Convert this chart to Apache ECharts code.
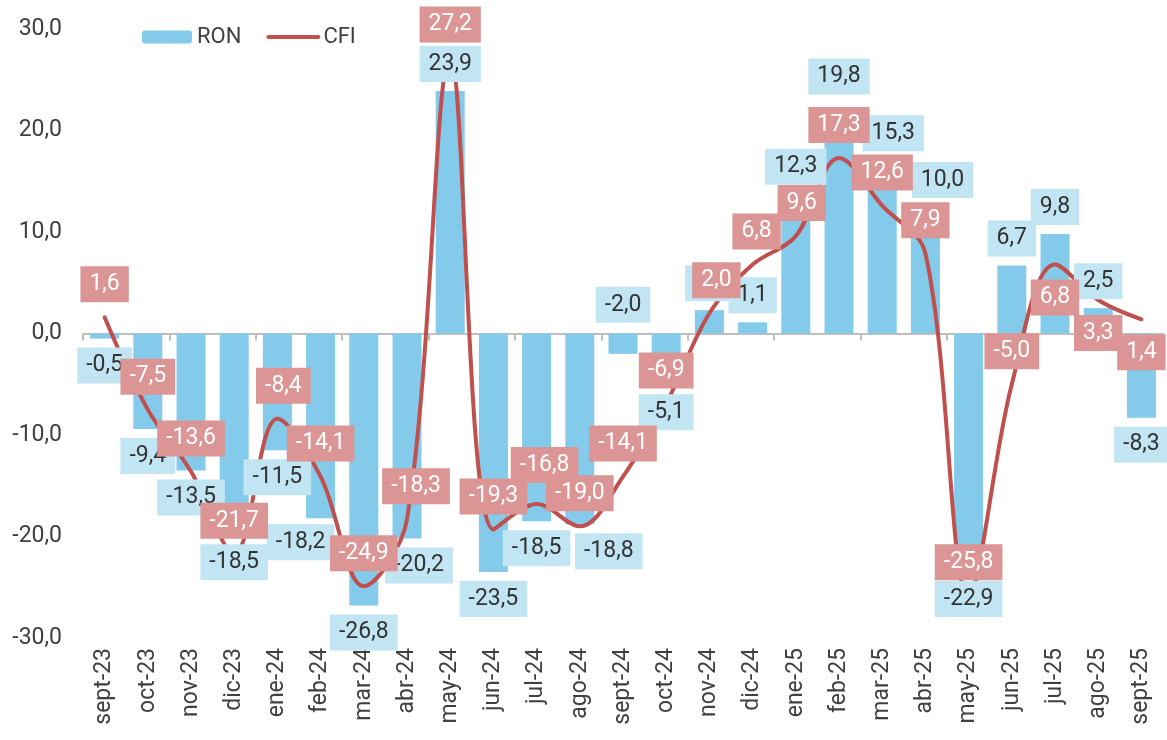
<!DOCTYPE html>
<html><head><meta charset="utf-8">
<script src="https://cdn.jsdelivr.net/npm/echarts@6/dist/echarts.min.js"></script>
<style>html,body{margin:0;padding:0;background:#fff}#c{width:1167px;height:740px}</style>
</head><body><div id="c"></div>
<script>
// ---- data ----
const categories = ['sept-23','oct-23','nov-23','dic-23','ene-24','feb-24','mar-24','abr-24','may-24','jun-24','jul-24','ago-24','sept-24','oct-24','nov-24','dic-24','ene-25','feb-25','mar-25','abr-25','may-25','jun-25','jul-25','ago-25','sept-25'];
const ronValues = [-0.5,-9.4,-13.5,-18.5,-11.5,-18.2,-26.8,-20.2,23.9,-23.5,-18.5,-18.8,-2.0,-5.1,2.3,1.1,12.3,19.8,15.3,10.0,-22.9,6.7,9.8,2.5,-8.3];
const cfiValues = [1.6,-7.5,-13.6,-21.7,-8.4,-14.1,-24.9,-18.3,27.2,-19.3,-16.8,-19.0,-14.1,-6.9,2.0,6.8,9.6,17.3,12.6,7.9,-25.8,-5.0,6.8,3.3,1.4];
const seriesNames = ['RON', 'CFI'];
const yMin = -30, yMax = 30, yStep = 10;

// ---- label layout tweaks (style only) ----
const ronLabelTweak = {3:{offset:[0,14]}, 5:{offset:[-20,-3]}, 7:{offset:[12,0]}, 11:{offset:[29,0]}, 12:{position:'top', offset:[0,-22]}, 16:{offset:[0,-15]}, 17:{offset:[0,-29]}, 18:{offset:[11,-18]}, 19:{offset:[17,-25]}, 20:{offset:[0,6]}};
const cfiLabelTweak = {4:{offset:[6,0]}, 7:{offset:[9,0]}, 10:{offset:[8,-6]}, 14:{offset:[7,0]}, 15:{offset:[4,0]}, 16:{offset:[6,0]}, 22:{position:'bottom'}, 23:{position:'bottom'}, 24:{position:'bottom'}};

const FONT = 'Roboto';
const BLUE = '#83CAEB', BLUE_LBL = '#C2E5F4', RED = '#C0504D', RED_LBL = '#DB9595';
const fmt = v => Number(v).toFixed(1).replace('.', ',');

const ronLabelData = ronValues.map((v, i) => ({value: v, label: Object.assign({position: v < 0 ? 'bottom' : 'top'}, ronLabelTweak[i] || {})}));
const cfiLabelData = cfiValues.map((v, i) => ({value: v, label: Object.assign({position: 'top'}, cfiLabelTweak[i] || {})}));

const labelBase = {show: true, formatter: p => fmt(p.value), fontFamily: FONT, fontSize: 23,
  padding: [5, 9, 5, 9], lineHeight: 26};

const chart = echarts.init(document.getElementById('c'), null, {renderer: 'canvas'});
chart.setOption({
  animation: false,
  backgroundColor: '#fff',
  textStyle: {fontFamily: FONT},
  legend: {
    data: [
      {name: 'RON'},
      {name: 'CFI', itemStyle: {color: 'rgba(0,0,0,0)', borderWidth: 0}, lineStyle: {width: 4, cap: 'round', color: RED}}
    ],
    left: 142, top: 26, padding: 0, itemWidth: 50, itemHeight: 13, itemGap: 25,
    textStyle: {fontFamily: FONT, fontSize: 22, color: '#404040'}
  },
  grid: {left: 83, right: 4, top: 29, bottom: 102, containLabel: false},
  xAxis: [
    {type: 'category', data: categories, position: 'bottom',
     axisLine: {show: false, onZero: false}, axisTick: {show: false},
     axisLabel: {rotate: 90, margin: 10, fontFamily: FONT, fontSize: 23, color: '#404040', interval: 0}},
    {type: 'category', data: categories, position: 'top',
     axisLine: {show: true, onZero: true, lineStyle: {color: '#bfbfbf', width: 2}},
     axisTick: {show: true, inside: true, length: 7, lineStyle: {color: '#bfbfbf', width: 2}},
     axisLabel: {show: false}}
  ],
  yAxis: {type: 'value', min: yMin, max: yMax, interval: yStep,
    axisLine: {show: false}, axisTick: {show: false}, splitLine: {show: false},
    axisLabel: {formatter: v => fmt(v), fontFamily: FONT, fontSize: 23, color: '#404040', margin: 21}},
  series: [
    {name: 'RON', type: 'bar', xAxisIndex: 0, data: ronValues, barWidth: 29,
     itemStyle: {color: BLUE}, z: 2},
    {name: 'CFI', type: 'line', xAxisIndex: 0, data: cfiValues, smooth: 0.35, symbol: 'none',
     lineStyle: {color: RED, width: 4, cap: 'round'}, itemStyle: {color: RED}, z: 3},
    {name: 'RON etiquetas', type: 'scatter', xAxisIndex: 0, data: ronLabelData, symbolSize: 0,
     itemStyle: {color: BLUE, opacity: 1}, z: 4, silent: true,
     label: Object.assign({}, labelBase, {color: '#333', backgroundColor: BLUE_LBL, distance: 9})},
    {name: 'CFI etiquetas', type: 'scatter', xAxisIndex: 0, data: cfiLabelData, symbolSize: 0,
     itemStyle: {color: RED, opacity: 1}, z: 5, silent: true,
     label: Object.assign({}, labelBase, {color: '#fff', backgroundColor: RED_LBL, distance: 15})}
  ]
});
</script></body></html>
